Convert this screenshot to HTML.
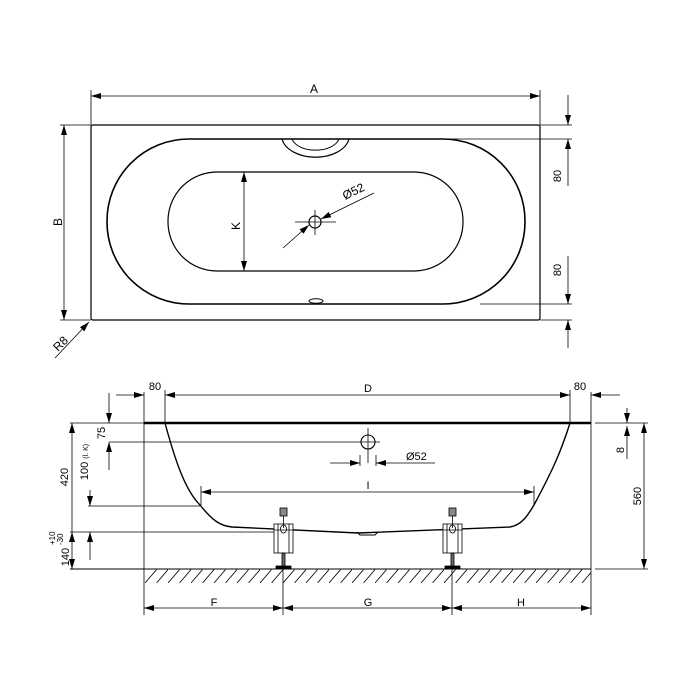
<!DOCTYPE html>
<html><head><meta charset="utf-8"><style>html,body{margin:0;padding:0;background:#fff}svg{display:block}</style></head><body>
<svg width="700" height="700" viewBox="0 0 700 700" xmlns="http://www.w3.org/2000/svg" font-family="Liberation Sans, sans-serif" font-size="11" fill="none" stroke="#000">
<defs>
<marker id="ar" viewBox="0 0 10 6" refX="10" refY="3" markerWidth="10" markerHeight="6" orient="auto-start-reverse" markerUnits="userSpaceOnUse"><path d="M0,0 L10,3 L0,6 z" fill="#000" stroke="none"/></marker>
<pattern id="hatch" width="11.5" height="14" patternUnits="userSpaceOnUse" x="145" y="569"><line x1="0" y1="14" x2="12" y2="0" stroke="#000" stroke-width="0.8"/></pattern>
</defs>
<g stroke-width="0.8">
<!-- TOP VIEW -->
<rect x="91" y="125" width="449" height="195" rx="2" stroke-width="1.2"/>
<rect x="107" y="139" width="418" height="165" rx="82" stroke-width="1.6"/>
<rect x="168" y="172" width="295" height="99" rx="49" stroke-width="1.2"/>
<path d="M282,139 A34,22 0 0 0 349,139" stroke-width="1.2"/>
<path d="M292,139 A24,14 0 0 0 339,139" stroke-width="1"/>
<ellipse cx="316" cy="301" rx="7" ry="2.2" stroke-width="1"/>
<circle cx="315" cy="222" r="6" stroke-width="1.2"/>
<line x1="315" y1="210" x2="315" y2="235"/><line x1="295" y1="222" x2="336" y2="222"/>
<line x1="283" y1="248" x2="309" y2="225" marker-end="url(#ar)"/>
<line x1="374" y1="193" x2="321" y2="219" marker-end="url(#ar)"/>
<text x="345" y="200" transform="rotate(-26 345 200)" stroke="none" fill="#000" font-size="12">Ø52</text>
<line x1="244" y1="172" x2="244" y2="271" marker-start="url(#ar)" marker-end="url(#ar)"/>
<text x="240" y="226" transform="rotate(-90 240 226)" stroke="none" fill="#000" font-size="12" text-anchor="middle">K</text>
<line x1="91" y1="96" x2="540" y2="96" marker-start="url(#ar)" marker-end="url(#ar)"/>
<line x1="91" y1="90" x2="91" y2="125"/><line x1="540" y1="90" x2="540" y2="125"/>
<text x="314" y="93" stroke="none" fill="#000" font-size="12" text-anchor="middle">A</text>
<line x1="64" y1="125" x2="64" y2="320" marker-start="url(#ar)" marker-end="url(#ar)"/>
<line x1="60" y1="125" x2="91" y2="125"/><line x1="60" y1="320" x2="91" y2="320"/>
<text x="62" y="222" transform="rotate(-90 62 222)" stroke="none" fill="#000" font-size="12" text-anchor="middle">B</text>
<line x1="55" y1="358" x2="89" y2="322" marker-end="url(#ar)"/>
<text x="58" y="352" transform="rotate(-45 58 352)" stroke="none" fill="#000" font-size="12">R8</text>
<line x1="540" y1="125" x2="572" y2="125"/><line x1="420" y1="139" x2="572" y2="139"/>
<line x1="480" y1="304" x2="572" y2="304"/><line x1="540" y1="320" x2="572" y2="320"/>
<line x1="568" y1="95" x2="568" y2="125" marker-end="url(#ar)"/>
<line x1="568" y1="186" x2="568" y2="139" marker-end="url(#ar)"/>
<line x1="568" y1="256" x2="568" y2="304" marker-end="url(#ar)"/>
<line x1="568" y1="348" x2="568" y2="320" marker-end="url(#ar)"/>
<text x="561" y="176" transform="rotate(-90 561 176)" stroke="none" fill="#000" font-size="11" text-anchor="middle">80</text>
<text x="561" y="270" transform="rotate(-90 561 270)" stroke="none" fill="#000" font-size="11" text-anchor="middle">80</text>

<!-- SIDE VIEW -->
<rect x="145" y="569" width="446" height="14" fill="url(#hatch)" stroke="none"/>
<line x1="70" y1="569" x2="591" y2="569" stroke-width="1"/>
<line x1="595" y1="569" x2="648" y2="569"/>
<line x1="144" y1="392" x2="144" y2="615"/>
<line x1="591" y1="392" x2="591" y2="615"/>
<line x1="144" y1="423" x2="591" y2="423" stroke-width="2.4"/>
<line x1="70" y1="423" x2="144" y2="423"/>
<line x1="595" y1="423" x2="648" y2="423"/>
<path d="M165,423 C175,460 185,490 200,505 C212,520 220,526 232,527 L358,533 L510,527 C522,525 528,515 534,505 C550,475 560,455 570,423" stroke-width="1.4"/>
<path d="M357,532 L360,535 L375,535 L378,532" stroke-width="1"/>
<line x1="70" y1="532" x2="274" y2="532"/>
<!-- D dims -->
<line x1="165" y1="395" x2="570" y2="395" marker-start="url(#ar)" marker-end="url(#ar)"/>
<line x1="165" y1="390" x2="165" y2="423"/><line x1="570" y1="390" x2="570" y2="423"/>
<line x1="116" y1="395" x2="144" y2="395" marker-end="url(#ar)"/>
<line x1="620" y1="395" x2="591" y2="395" marker-end="url(#ar)"/>
<text x="368" y="392" stroke="none" fill="#000" text-anchor="middle">D</text>
<text x="155" y="390" stroke="none" fill="#000" text-anchor="middle">80</text>
<text x="580" y="390" stroke="none" fill="#000" text-anchor="middle">80</text>
<!-- drain side -->
<circle cx="368" cy="442" r="7" stroke-width="1.1"/>
<line x1="368" y1="428" x2="368" y2="463"/>
<line x1="109" y1="442" x2="380" y2="442"/>
<line x1="330" y1="463" x2="360" y2="463" marker-end="url(#ar)"/>
<line x1="435" y1="463" x2="376" y2="463" marker-end="url(#ar)"/>
<line x1="360" y1="455" x2="360" y2="466"/><line x1="376" y1="455" x2="376" y2="466"/>
<text x="406" y="460" stroke="none" fill="#000">Ø52</text>
<!-- I -->
<line x1="201" y1="492" x2="534" y2="492" marker-start="url(#ar)" marker-end="url(#ar)"/>
<line x1="201" y1="486" x2="201" y2="505"/><line x1="534" y1="486" x2="534" y2="505"/>
<text x="368" y="489" stroke="none" fill="#000" text-anchor="middle">I</text>
<line x1="88" y1="506" x2="200" y2="506"/>
<!-- left dims -->
<line x1="72" y1="423" x2="72" y2="532" marker-start="url(#ar)"/>
<line x1="72" y1="532" x2="72" y2="569" marker-start="url(#ar)" marker-end="url(#ar)"/>
<text x="68" y="477" transform="rotate(-90 68 477)" stroke="none" fill="#000" text-anchor="middle">420</text>
<text x="69" y="557" transform="rotate(-90 69 557)" stroke="none" fill="#000" text-anchor="middle">140</text>
<text x="55" y="545" transform="rotate(-90 55 545)" stroke="none" fill="#000" font-size="8" text-anchor="start">+10</text>
<text x="63" y="545" transform="rotate(-90 63 545)" stroke="none" fill="#000" font-size="8" text-anchor="start">-30</text>
<line x1="109" y1="393" x2="109" y2="423" marker-end="url(#ar)"/>
<line x1="109" y1="470" x2="109" y2="442" marker-end="url(#ar)"/>
<text x="105" y="433" transform="rotate(-90 105 433)" stroke="none" fill="#000" text-anchor="middle">75</text>
<line x1="90" y1="490" x2="90" y2="506" marker-end="url(#ar)"/>
<line x1="90" y1="560" x2="90" y2="532" marker-end="url(#ar)"/>
<text x="88" y="462" transform="rotate(-90 88 462)" stroke="none" fill="#000" text-anchor="middle">100 <tspan font-size="7">(l. K)</tspan></text>
<!-- right dims -->
<line x1="627" y1="408" x2="627" y2="423" marker-end="url(#ar)"/>
<line x1="627" y1="459" x2="627" y2="426" marker-end="url(#ar)"/>
<text x="624" y="450" transform="rotate(-90 624 450)" stroke="none" fill="#000" text-anchor="middle">8</text>
<line x1="644" y1="423" x2="644" y2="569" marker-start="url(#ar)" marker-end="url(#ar)"/>
<text x="641" y="496" transform="rotate(-90 641 496)" stroke="none" fill="#000" text-anchor="middle">560</text>
<!-- F G H -->
<line x1="144" y1="608" x2="283" y2="608" marker-start="url(#ar)" marker-end="url(#ar)"/>
<line x1="283" y1="608" x2="452" y2="608" marker-start="url(#ar)" marker-end="url(#ar)"/>
<line x1="452" y1="608" x2="591" y2="608" marker-start="url(#ar)" marker-end="url(#ar)"/>
<line x1="283" y1="560" x2="283" y2="615"/><line x1="452" y1="560" x2="452" y2="615"/>
<text x="214" y="606" stroke="none" fill="#000" text-anchor="middle">F</text>
<text x="368" y="606" stroke="none" fill="#000" text-anchor="middle">G</text>
<text x="521" y="606" stroke="none" fill="#000" text-anchor="middle">H</text>
<!-- feet -->
<g id="foot">
<rect x="274" y="524" width="19" height="29" fill="#fff"/>
<line x1="278" y1="524" x2="278" y2="553"/><line x1="289" y1="524" x2="289" y2="553"/>
<line x1="274" y1="530" x2="293" y2="530"/>
<rect x="280" y="508" width="7" height="8" fill="#888"/>
<line x1="283.5" y1="516" x2="283.5" y2="528"/>
<ellipse cx="283.5" cy="529" rx="3" ry="4"/>
<rect x="282" y="553" width="3" height="14" fill="#666"/>
<rect x="276" y="566" width="15" height="3" fill="#000"/>
</g>
<use href="#foot" transform="translate(169,0)"/>
</g>
</svg>
</body></html>
